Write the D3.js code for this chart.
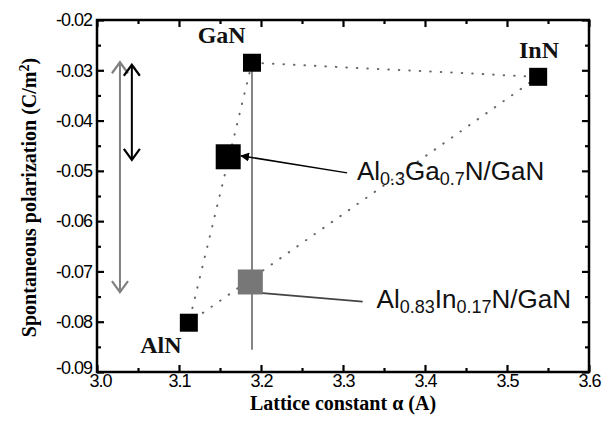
<!DOCTYPE html>
<html>
<head>
<meta charset="utf-8">
<script src="https://cdn.jsdelivr.net/npm/d3@7"></script>
<style>
  body { margin: 0; background: #fff; }
  svg { display: block; }
</style>
</head>
<body>
<div id="chart"></div>
<script>
// Binary nitrides (a in Angstrom, Psp in C/m^2)
const binaries = ["GaN", "InN", "AlN"];
const binaryA = [3.189, 3.538, 3.112];
const binaryP = [-0.0285, -0.0313, -0.0802];
const binaryLabelA = [3.152, 3.539, 3.078];
const binaryLabelP = [-0.0246, -0.0275, -0.0862];

// Alloy barriers on GaN
const alloyA = [3.160, 3.187];
const alloyP = [-0.0472, -0.0721];
const alloyColor = ["#000", "#777"];

// Axis ticks
const xMajor = [3.0, 3.1, 3.2, 3.3, 3.4, 3.5, 3.6];
const xMinor = [3.05, 3.15, 3.25, 3.35, 3.45, 3.55];
const yMajor = [-0.09, -0.08, -0.07, -0.06, -0.05, -0.04, -0.03, -0.02];
const yMinor = [-0.085, -0.075, -0.065, -0.055, -0.045, -0.035, -0.025];

// GaN lattice line and difference arrows
const ganLine = { a: 3.189, p0: -0.0285, p1: -0.0856 };
const arrows = [
  { a: 3.028, p0: -0.0284, p1: -0.0741, color: "#808080" },
  { a: 3.0425, p0: -0.0289, p1: -0.0478, color: "#000" }
];

const width = 609, height = 431;
const margin = { top: 20, right: 20, bottom: 59, left: 97 };

const x = d3.scaleLinear().domain([3.0, 3.6]).range([margin.left, width - margin.right]);
const y = d3.scaleLinear().domain([-0.09, -0.02]).range([height - margin.bottom, margin.top]);

const svg = d3.select("#chart").append("svg")
  .attr("width", width)
  .attr("height", height);

const defs = svg.append("defs");
["#808080", "#000"].forEach((c, i) => {
  defs.append("marker")
    .attr("id", "vhead" + i)
    .attr("viewBox", "0 0 16 20")
    .attr("refX", 14).attr("refY", 10)
    .attr("markerWidth", 16).attr("markerHeight", 20)
    .attr("markerUnits", "userSpaceOnUse")
    .attr("orient", "auto-start-reverse")
    .append("path")
    .attr("d", "M3,2 L14,10 L3,18")
    .attr("fill", "none")
    .attr("stroke", c)
    .attr("stroke-width", 2.2);
});
defs.append("marker")
  .attr("id", "tri")
  .attr("viewBox", "0 0 10 10")
  .attr("refX", 9).attr("refY", 5)
  .attr("markerWidth", 9).attr("markerHeight", 9)
  .attr("markerUnits", "userSpaceOnUse")
  .attr("orient", "auto")
  .append("path")
  .attr("d", "M0,0 L10,5 L0,10 Z")
  .attr("fill", "#000");

// Ticks (inward on all four sides)
function tickAxis(axis, vals, size, tr, labels) {
  const g = svg.append("g")
    .attr("transform", tr)
    .call(axis.tickValues(vals).tickSize(size).tickSizeOuter(0)
      .tickFormat(labels ? labels : ""));
  g.select(".domain").remove();
  g.selectAll(".tick line").attr("stroke", "#000").attr("stroke-width", 2.2);
  return g;
}
const bottomY = height - margin.bottom, rightX = width - margin.right;
const xl = tickAxis(d3.axisBottom(x), xMajor, -7, `translate(0,${bottomY})`, d => d.toFixed(1));
tickAxis(d3.axisBottom(x), xMinor, -4, `translate(0,${bottomY})`);
tickAxis(d3.axisTop(x), xMajor, -7, `translate(0,${margin.top})`);
tickAxis(d3.axisTop(x), xMinor, -4, `translate(0,${margin.top})`);
const yl = tickAxis(d3.axisLeft(y), yMajor, -7, `translate(${margin.left},0)`, d => d.toFixed(2));
tickAxis(d3.axisLeft(y), yMinor, -4, `translate(${margin.left},0)`);
tickAxis(d3.axisRight(y), yMajor, -7, `translate(${rightX},0)`);
tickAxis(d3.axisRight(y), yMinor, -4, `translate(${rightX},0)`);

xl.selectAll(".tick text")
  .attr("y", 2).attr("dy", "0.71em")
  .style("font", "18px 'Liberation Sans', Arial, sans-serif")
  .style("letter-spacing", "-1px")
  .attr("fill", "#000");
yl.selectAll(".tick text")
  .attr("x", -5)
  .style("font", "18px 'Liberation Sans', Arial, sans-serif")
  .style("letter-spacing", "-1px")
  .attr("fill", "#000");
yl.selectAll(".tick").filter(d => d === -0.09).select("text").attr("dy", "0.1em");
xl.selectAll(".tick").filter(d => d === 3.0).select("text").attr("dx", "3");

// Frame
svg.append("rect")
  .attr("x", margin.left).attr("y", margin.top)
  .attr("width", rightX - margin.left)
  .attr("height", bottomY - margin.top)
  .attr("fill", "none")
  .attr("stroke", "#000")
  .attr("stroke-width", 2.5);

// Axis titles
svg.append("text")
  .attr("x", x(3.3)).attr("y", 410)
  .attr("text-anchor", "middle")
  .style("font", "bold 20px 'Liberation Serif', 'Times New Roman', serif")
  .text("Lattice constant α (A)");

const yt = svg.append("text")
  .attr("transform", `translate(36,${y(-0.0553)}) rotate(-90)`)
  .attr("text-anchor", "middle")
  .style("font", "bold 20px 'Liberation Serif', 'Times New Roman', serif");
yt.append("tspan").text("Spontaneous polarization (C/m");
yt.append("tspan").attr("baseline-shift", "super").style("font-size", "14px").text("2");
yt.append("tspan").text(")");

// Dotted triangle between binaries
const tri = [[0, 1], [1, 2], [0, 2]];
svg.append("g").selectAll("line")
  .data(tri)
  .join("line")
  .attr("x1", d => x(binaryA[d[0]])).attr("y1", d => y(binaryP[d[0]]))
  .attr("x2", d => x(binaryA[d[1]])).attr("y2", d => y(binaryP[d[1]]))
  .attr("stroke", "#666")
  .attr("stroke-width", 2)
  .attr("stroke-linecap", "round")
  .attr("stroke-dasharray", "0.5,10");

// GaN lattice-matched line
svg.append("line")
  .attr("x1", x(ganLine.a)).attr("x2", x(ganLine.a))
  .attr("y1", y(ganLine.p0)).attr("y2", y(ganLine.p1))
  .attr("stroke", "#777")
  .attr("stroke-width", 1.8);

// Double arrows
svg.append("g").selectAll("line")
  .data(arrows)
  .join("line")
  .attr("x1", d => x(d.a)).attr("x2", d => x(d.a))
  .attr("y1", d => y(d.p0)).attr("y2", d => y(d.p1))
  .attr("stroke", d => d.color)
  .attr("stroke-width", 2)
  .attr("marker-start", (d, i) => `url(#vhead${i})`)
  .attr("marker-end", (d, i) => `url(#vhead${i})`);

// Annotation leader lines
svg.append("line")
  .attr("x1", x(3.305)).attr("y1", y(-0.0504))
  .attr("x2", x(3.1756)).attr("y2", y(-0.0470))
  .attr("stroke", "#000").attr("stroke-width", 1.5)
  .attr("marker-end", "url(#tri)");
svg.append("line")
  .attr("x1", x(3.324)).attr("y1", y(-0.0760))
  .attr("x2", x(3.195)).attr("y2", y(-0.0742))
  .attr("stroke", "#444").attr("stroke-width", 1.8);

// Binary squares
svg.append("g").selectAll("rect")
  .data(binaries)
  .join("rect")
  .attr("x", (d, i) => x(binaryA[i]) - 9)
  .attr("y", (d, i) => y(binaryP[i]) - 9)
  .attr("width", 18).attr("height", 18)
  .attr("fill", "#000");

// Alloy squares
svg.append("g").selectAll("rect")
  .data(alloyA)
  .join("rect")
  .attr("x", (d, i) => x(d) - 12.5)
  .attr("y", (d, i) => y(alloyP[i]) - 12.5)
  .attr("width", 25).attr("height", 25)
  .attr("fill", (d, i) => alloyColor[i]);

// Binary labels
svg.append("g").selectAll("text")
  .data(binaries)
  .join("text")
  .attr("x", (d, i) => x(binaryLabelA[i]))
  .attr("y", (d, i) => y(binaryLabelP[i]))
  .attr("text-anchor", "middle")
  .style("font", "bold 24px 'Liberation Serif', 'Times New Roman', serif")
  .attr("fill", "#111")
  .text(d => d);

// Alloy labels with subscripts
function alloyLabel(a, p, parts) {
  const t = svg.append("text")
    .attr("x", x(a)).attr("y", y(p))
    .style("font", "26px 'Liberation Sans', Arial, sans-serif")
    .attr("fill", "#111");
  parts.forEach(([s, sub]) => {
    const ts = t.append("tspan").text(s);
    if (sub) ts.attr("baseline-shift", "-28%").style("font-size", "18px");
  });
}
alloyLabel(3.317, -0.0519, [["Al"], ["0.3", 1], ["Ga"], ["0.7", 1], ["N/GaN"]]);
alloyLabel(3.341, -0.0773, [["Al"], ["0.83", 1], ["In"], ["0.17", 1], ["N/GaN"]]);
</script>
</body>
</html>
